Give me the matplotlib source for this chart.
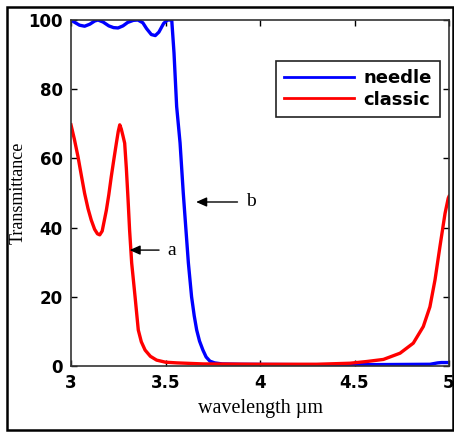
import matplotlib.pyplot as plt
from matplotlib.lines import Line2D

# needle filter (blue)
needle_wl = [3.0, 3.02, 3.045, 3.072, 3.10, 3.125, 3.143, 3.17, 3.20, 3.225, 3.249,
             3.275, 3.30, 3.33, 3.354, 3.38, 3.40, 3.425, 3.446, 3.465, 3.49, 3.51,
             3.533, 3.545, 3.559, 3.577, 3.594, 3.608, 3.621, 3.638, 3.652, 3.665,
             3.68, 3.698, 3.715, 3.735, 3.76, 3.80, 3.9, 4.2, 4.6, 4.9, 4.94, 4.96, 5.0]
needle_t = [100, 99.3, 98.5, 98.2, 98.8, 99.7, 100, 99.4, 98.3, 97.8, 97.7,
            98.3, 99.3, 99.9, 100, 99.2, 97.5, 95.8, 95.5, 96.5, 99.0, 100,
            100, 90.5, 75, 64.5, 50, 39.5, 29.8, 20, 14.5, 10.4,
            7.2, 4.6, 2.6, 1.4, 0.9, 0.6, 0.5, 0.4, 0.4, 0.5, 0.9, 1.0, 1.0]

# classic filter (red)
classic_wl = [3.0, 3.018, 3.037, 3.055, 3.072, 3.09, 3.107, 3.125, 3.14, 3.152,
              3.165, 3.187, 3.20, 3.213, 3.227, 3.24, 3.25, 3.258, 3.266, 3.275,
              3.284, 3.293, 3.302, 3.31, 3.321, 3.339, 3.356, 3.372, 3.392, 3.42,
              3.453, 3.5, 3.56, 3.7, 4.0, 4.3, 4.476, 4.565, 4.653, 4.741, 4.811,
              4.864, 4.899, 4.926, 4.952, 4.979, 4.996, 5.0]
classic_t = [69.7, 65.5, 60.5, 55, 49.9, 45.5, 42.2, 39.5, 38.2, 37.9,
             39.0, 45, 49.5, 54.7, 59.8, 64.4, 67.8, 69.7, 68.5, 66.5,
             64.4, 57, 48, 39.3, 29.8, 20, 10.4, 7.0, 4.6, 2.8,
             1.7, 1.1, 0.9, 0.6, 0.5, 0.5, 0.8, 1.3, 1.9, 3.7, 6.6,
             11.4, 17.1, 24.9, 34.5, 44.1, 48.5, 49.0]

x_ticks = [3, 3.5, 4, 4.5, 5]
x_tick_labels = ['3', '3.5', '4', '4.5', '5']
y_ticks = [0, 20, 40, 60, 80, 100]

fig = plt.figure(figsize=(4.54, 4.32), dpi=100)
ax = fig.add_axes([71 / 454, 1 - 366 / 432, 378 / 454, 346 / 432])

ax.plot(needle_wl, needle_t, color='#0000ff', lw=2.4, label='needle')
ax.plot(classic_wl, classic_t, color='#ff0000', lw=2.4, label='classic')

ax.set_xlim(3, 5)
ax.set_ylim(0, 100)
ax.set_xticks(x_ticks)
ax.set_xticklabels(x_tick_labels)
ax.set_yticks(y_ticks)
ax.tick_params(direction='in', length=4, width=1, top=True, right=True, pad=6,
               labelsize=12)
for lab in ax.get_xticklabels() + ax.get_yticklabels():
    lab.set_fontfamily('DejaVu Sans')
    lab.set_fontweight('bold')
for sp in ax.spines.values():
    sp.set_linewidth(1.2)
    sp.set_color('#333333')

ax.set_xlabel('wavelength µm', family='Liberation Serif', fontsize=14.5, labelpad=5)
ax.set_ylabel('Transmittance', family='Liberation Serif', fontsize=13)
ax.yaxis.set_label_coords(-(71 - 27) / 378, 0.5)

# legend
handles = [Line2D([], [], color='#0000ff', lw=2), Line2D([], [], color='#ff0000', lw=2)]
leg = ax.legend(handles, ['needle', 'classic'], loc='upper right',
                bbox_to_anchor=((440 - 71) / 378, (366 - 61) / 346),
                borderaxespad=0, fancybox=False, framealpha=1, edgecolor='#222222',
                handlelength=3.9, handletextpad=0.5, labelspacing=0.2,
                borderpad=0.45, prop={'family': 'DejaVu Sans', 'weight': 'bold', 'size': 13})
leg.get_frame().set_linewidth(1.2)

# annotations
arrow = dict(arrowstyle='-|>,head_length=0.45,head_width=0.2', color='black', lw=1,
             shrinkA=4, shrinkB=0)
ax.annotate('b', xy=(3.662, 47.4), xytext=(3.925, 47.4), family='Liberation Serif',
            fontsize=14, va='center', arrowprops=arrow)
ax.annotate('a', xy=(3.31, 33.5), xytext=(3.51, 33.5), family='Liberation Serif',
            fontsize=14, va='center', arrowprops=arrow)

# outer frame around the whole figure
fig.add_artist(plt.Rectangle((7 / 454, 1 - 430 / 432), 446 / 454, 423 / 432,
                             transform=fig.transFigure, fill=False,
                             edgecolor='black', lw=1.8))

fig.savefig('out.png', dpi=100)
